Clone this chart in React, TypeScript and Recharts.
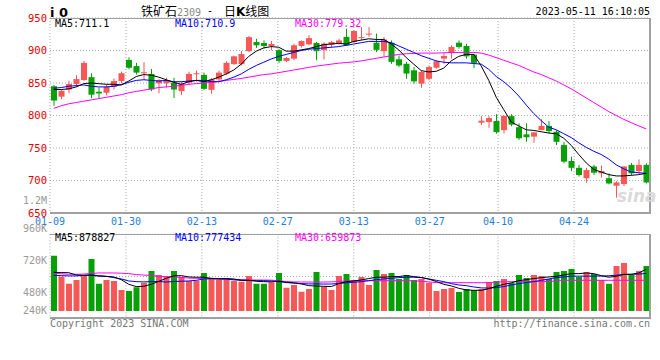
import React from 'react'
import { ComposedChart, Bar, Line, XAxis, YAxis, CartesianGrid, Cell } from 'recharts'

// trading days shown on the chart
const dates = [
  '01-09', '01-10', '01-11', '01-12', '01-13', '01-16', '01-17', '01-18', '01-19', '01-20',
  '01-30', '01-31', '02-01', '02-02', '02-03', '02-06', '02-07', '02-08', '02-09', '02-10',
  '02-13', '02-14', '02-15', '02-16', '02-17', '02-20', '02-21', '02-22', '02-23', '02-24',
  '02-27', '02-28', '03-01', '03-02', '03-03', '03-06', '03-07', '03-08', '03-09', '03-10',
  '03-13', '03-14', '03-15', '03-16', '03-17', '03-20', '03-21', '03-22', '03-23', '03-24',
  '03-27', '03-28', '03-29', '03-30', '03-31', '04-03', '04-04', '04-06', '04-07',
  '04-10', '04-11', '04-12', '04-13', '04-14', '04-17', '04-18', '04-19', '04-20', '04-21',
  '04-24', '04-25', '04-26', '04-27', '04-28', '05-04', '05-05', '05-08', '05-09', '05-10', '05-11',
]
const tickDates = ['01-09', '01-30', '02-13', '02-27', '03-13', '03-27', '04-10', '04-24']

const open = [
  845, 829, 840, 848.5, 854.5, 859, 836.5, 835, 844, 853,
  885.5, 876, 865, 864, 849.5, 849.5, 850.5, 837.5, 850.5, 863.5,
  862.5, 839.5, 855.5, 864.5, 879, 879, 899, 913, 911.5, 907,
  900.5, 884, 887.5, 907, 909.5, 911.5, 900.5, 909, 911.5, 921,
  913, 919.5, 925.5, 912, 899, 912, 886.5, 879.5, 869.5, 849,
  856.5, 873.5, 887.5, 896, 912, 907, 893.5, 789, 790, 791.5,
  777.5, 799, 782, 771, 767.5, 777.5, 784, 775, 754.5, 730,
  719.5, 703.5, 721.5, 711, 703.5, 692, 694.5, 724, 714.5, 724,
]
const high = [
  847, 840, 853.5, 862, 884, 865, 843, 848, 857, 867.5,
  889.5, 881, 882, 871.5, 856, 858, 858, 852, 867.5, 869,
  866, 857.5, 869, 883.5, 892, 899, 922.5, 918, 915.5, 914.5,
  902, 890, 910.5, 915.5, 923.5, 913, 913, 914.5, 918, 933.5,
  931, 936, 936, 926, 921, 915.5, 892.5, 882.5, 874.5, 869.5,
  877, 884.5, 896, 908, 915.5, 910.5, 895, 799, 799, 802,
  800, 802, 788, 788, 775, 794.5, 791.5, 777.5, 759.5, 736.5,
  724, 719.5, 724, 723, 711, 699, 722.5, 727, 732.5, 726.5,
]
const low = [
  815, 825, 834, 844, 853.5, 826.5, 825.5, 831, 840, 849.5,
  871, 863, 854.5, 837.5, 834, 843, 827, 831.5, 847, 852,
  839.5, 833.5, 851, 862, 878, 877, 897.5, 904, 903, 900.5,
  881, 882, 885, 904.5, 908, 885, 886, 904.5, 909, 907,
  912, 915.5, 921, 897.5, 890, 879.5, 874.5, 856.5, 849, 842.5,
  854, 872, 879.5, 887.5, 903, 887.5, 873, 785, 781, 772,
  772.5, 783.5, 762.5, 759.5, 758, 777.5, 772.5, 754.5, 726.5, 714.5,
  706, 696.5, 708.5, 704.5, 694, 673.5, 691.5, 708, 709.5, 695.5,
]
const close = [
  823, 838, 848.5, 856, 881, 832, 834, 844, 853, 865,
  873.5, 866, 866.5, 840, 854.5, 854.5, 840, 848.5, 864, 865,
  841, 855.5, 866, 881, 891, 894.5, 920.5, 908, 907, 910,
  884, 888.5, 908, 914.5, 919, 899, 910.5, 913, 915.5, 908,
  930, 920.5, 926, 901, 917, 882.5, 877, 864.5, 852.5, 867,
  874.5, 883.5, 891.5, 905.5, 905.5, 891, 881, 792, 796, 774.5,
  799.5, 786, 765, 766.5, 774, 784, 776, 759.5, 729, 719.5,
  708.5, 716, 712, 714.5, 695.5, 697, 721.5, 711, 724, 697,
]
const ma5 = [
  840, 840, 841, 844, 849, 850, 849, 848, 848, 847,
  853, 860, 863, 862, 859, 855, 851, 848, 852, 854,
  852, 855, 859, 864, 870, 879, 891, 899, 904, 906,
  905, 899, 899, 901, 903, 906, 909, 910, 911, 910,
  914, 916, 918, 917, 917, 910, 901, 889, 879, 869,
  867, 868, 873, 884, 891, 894, 894, 876, 854, 828,
  809, 790, 784, 778, 777, 775, 773, 772, 765, 754,
  740, 727, 717, 713, 709, 707, 707, 708, 709, 711.1,
]
const ma10 = [
  842, 843, 845, 846, 847, 845, 844, 844, 845, 847.5,
  851, 854, 855, 854, 853, 854, 852, 852, 853, 854,
  854, 852, 852, 855, 859, 864, 871, 877, 882, 887,
  891, 894, 897, 900, 902, 903, 904, 905, 906, 908,
  910, 912, 914, 914, 914, 912, 907, 902, 897, 892,
  888, 884, 882, 881, 881, 881, 880, 879, 871, 860,
  852, 842, 830, 816, 803, 792, 782, 778, 772, 766,
  758, 751, 745, 740, 733, 724, 718, 713, 712, 710.9,
]
const ma30 = [
  811, 815, 818, 820, 822, 824, 826, 828, 830, 832,
  835, 837, 839, 841, 843, 844, 845, 846.5, 848, 849,
  850, 851, 852.5, 854, 855.5, 857, 859, 861, 863, 864,
  866, 868, 870, 872, 874, 876, 877.5, 879, 880.5, 881.5,
  882.5, 884, 886, 888, 890, 892, 894, 895, 895.5, 896,
  896, 896, 896.5, 897, 897, 897, 897, 896, 893, 889,
  885, 881, 877, 872, 867, 863, 858, 853, 847, 841,
  834, 827, 820, 813, 806, 800, 794, 789, 784, 779.32,
]
// volume, in thousands (K)
const vol = [
  760, 602, 550, 577.5, 607.5, 735, 550, 577.5, 570, 502.5,
  495, 522.5, 557.5, 645, 615, 607.5, 645, 602, 570, 572.5,
  630, 590, 577.5, 590, 570, 565, 607.5, 550, 550, 560,
  630, 520, 540, 490, 510, 637.5, 527.5, 502.5, 607.5, 622.5,
  577.5, 600, 540, 652.5, 622.5, 630, 585, 615, 577.5, 585,
  557.5, 495, 510, 517.5, 487.5, 510, 502.5, 510, 562.5, 570,
  585, 555, 615, 592.5, 615, 607.5, 585, 637.5, 645, 660,
  600, 637.5, 622.5, 577.5, 550, 682.5, 705, 615, 645, 682.5,
]
const volMa5 = [
  635, 633, 632, 615, 612, 614, 606, 604, 600, 580,
  545, 528, 530, 545, 567, 590, 608, 610, 600, 598,
  598, 590, 586, 588, 585, 575, 575, 568, 565, 563,
  570, 558, 555, 548, 535, 532, 530, 528, 550, 565,
  570, 578, 588, 598, 598, 603, 603, 610, 603, 596,
  584, 566, 545, 533, 515, 503, 500, 500, 512, 530,
  545, 556, 572, 580, 588, 595, 600, 605, 615, 625,
  625, 630, 625, 610, 598, 605, 620, 620, 630, 658,
]
const volMa10 = [
  612, 610, 608, 608, 612, 615, 610, 605, 595, 585,
  570, 565, 563, 565, 566, 562, 566, 568, 570, 575,
  585, 588, 587, 585, 578, 575, 574, 572, 572, 570,
  565, 560, 555, 550, 548, 548, 547, 547, 552, 556,
  560, 565, 572, 580, 585, 590, 595, 598, 598, 595,
  585, 575, 565, 550, 540, 535, 525, 518, 517, 520,
  528, 540, 550, 558, 565, 575, 585, 595, 600, 606,
  606, 606, 607, 607, 609, 613, 618, 620, 622, 626,
]
const volMa30 = [
  628, 624, 620, 620, 622, 626, 630, 630, 630, 628,
  625, 618, 614, 612, 605, 602, 600, 596, 592, 590,
  588, 585, 583, 582, 582, 580, 578, 577, 577, 576,
  572, 566, 563, 562, 562, 562, 562, 563, 566, 570,
  572, 572, 572, 572, 572, 572, 572, 572, 571, 568,
  563, 558, 557, 557, 557, 557, 557, 557, 558, 561,
  564, 565, 565, 565, 565, 565, 566, 570, 574, 575,
  575, 575, 575, 575, 575, 575, 575, 575, 575, 575,
]
const priceTicks = [650, 700, 750, 800, 850, 900, 950]
const volTicks = [240, 480, 720, 960]
const volLegend = { ma5: '878827', ma10: '777434', ma30: '659873' }

const VOL_FLOOR = 345
const RED = '#f65757'
const GREEN = '#07a007'
const MONO = '"DejaVu Sans Mono", monospace'
const CJK = '"Noto Sans CJK SC", sans-serif'
const AXIS_W = 50

const rows = dates.map((date, i) => ({
  date,
  idx: i,
  open: open[i],
  high: high[i],
  low: low[i],
  close: close[i],
  ma5: ma5[i],
  ma10: ma10[i],
  ma30: ma30[i],
  vol: vol[i],
  volMa5: volMa5[i],
  volMa10: volMa10[i],
  volMa30: volMa30[i],
}))
const dateTicks = tickDates.map((d) => dates.indexOf(d))

const Candle = (p: any) => {
  const { x, y, width, height, payload } = p
  const top = Math.min(y, y + height)
  const h = Math.abs(height)
  const { open: o, close: c, high: hi, low: lo } = payload
  const py = (v: number) => top + ((hi - v) / (hi - lo)) * h
  const color = c >= o ? RED : GREEN
  const cx = x + width / 2
  const bTop = py(Math.max(o, c))
  const bBot = py(Math.min(o, c))
  return (
    <g>
      <line x1={cx} x2={cx} y1={top} y2={top + h} stroke={color} strokeWidth={1} />
      <rect x={x} y={bTop} width={width} height={Math.max(1, bBot - bTop)} fill={color} />
    </g>
  )
}

const VOL_H = 100
const VOL_M = { top: 10.3, right: 10, bottom: 5.3, left: 0 }

const VolTick = (p: any) => {
  // sina pins the lowest label to the bottom of the panel
  const y = Math.min(p.y, VOL_H - VOL_M.bottom - 8.4)
  return (
    <text x={AXIS_W - 3} y={y} textAnchor="end" dominantBaseline="central" fill="#999" fontSize={10} fontFamily={MONO}>
      {p.payload.value}K
    </text>
  )
}

const T = ({ x, r, y, s = 10, c = '#000', f = MONO, b = false, children }: any) => (
  <span
    style={{
      position: 'absolute',
      left: x,
      right: r,
      top: y - s / 2,
      fontSize: s,
      lineHeight: `${s}px`,
      color: c,
      fontFamily: f,
      fontWeight: b ? 'bold' : 'normal',
      whiteSpace: 'nowrap',
    }}
  >
    {children}
  </span>
)

const frame = (top: number, height: number): React.CSSProperties => ({
  position: 'absolute',
  left: 50,
  top,
  width: 601,
  height,
  boxSizing: 'border-box',
  borderTop: '1px solid #a0a0a0',
  borderRight: '2px solid #a0a0a0',
  borderBottom: '2px solid #a0a0a0',
  pointerEvents: 'none',
})

const App: React.FC = () => {
  const last = rows.length - 1
  return (
    <div style={{ position: 'absolute', left: 0, top: 0, width: 660, height: 360, background: '#fff', overflow: 'hidden' }}>
      <div style={{ position: 'absolute', left: 0, top: 0 }}>
        <ComposedChart width={660} height={230} data={rows} margin={{ top: 18, right: 10, bottom: 0, left: 0 }}>
          <CartesianGrid stroke="#a8a8a8" strokeDasharray="1 2" />
          <XAxis
            xAxisId={0}
            dataKey="idx"
            type="number"
            domain={[0, last]}
            allowDataOverflow
            ticks={dateTicks}
            interval={0}
            tickFormatter={(v: number) => dates[v]}
            height={17}
            tickSize={0}
            tickMargin={5}
            axisLine={false}
            tick={{ fill: '#1f80d8', fontSize: 10, fontFamily: MONO }}
          />
          <XAxis xAxisId="bar" dataKey="date" hide />
          <YAxis
            yAxisId={0}
            type="number"
            domain={[650, 950]}
            allowDataOverflow
            ticks={priceTicks}
            interval={0}
            width={AXIS_W}
            tickSize={0}
            tickMargin={3}
            axisLine={false}
            tick={{ fill: '#e60000', fontSize: 10.5, fontFamily: MONO }}
          />
          <Bar xAxisId="bar" dataKey={(r: any) => [r.low, r.high]} barSize={6} shape={Candle} isAnimationActive={false} />
          <Line xAxisId="bar" dataKey="ma30" stroke="#ff00ff" strokeWidth={1} dot={false} activeDot={false} isAnimationActive={false} />
          <Line xAxisId="bar" dataKey="ma10" stroke="#0000ff" strokeWidth={1} dot={false} activeDot={false} isAnimationActive={false} />
          <Line xAxisId="bar" dataKey="ma5" stroke="#000" strokeWidth={1} dot={false} activeDot={false} isAnimationActive={false} />
        </ComposedChart>
      </div>

      <div style={{ position: 'absolute', left: 0, top: 224 }}>
        <ComposedChart width={660} height={VOL_H} data={rows} margin={VOL_M}>
          <CartesianGrid stroke="#a8a8a8" strokeDasharray="1 2" />
          <XAxis xAxisId={0} dataKey="idx" type="number" domain={[0, last]} allowDataOverflow ticks={dateTicks} interval={0} hide />
          <XAxis xAxisId="bar" dataKey="date" hide />
          <YAxis yAxisId={0} type="number" domain={[0, 4]} ticks={[0, 1, 2, 3, 4]} allowDataOverflow hide />
          <YAxis
            yAxisId="vol"
            type="number"
            domain={[287, 920]}
            allowDataOverflow
            ticks={volTicks}
            interval={0}
            width={AXIS_W}
            tickSize={0}
            tickMargin={3}
            axisLine={false}
            tick={VolTick}
          />
          <Bar xAxisId="bar" yAxisId="vol" dataKey={(r: any) => [VOL_FLOOR, r.vol]} barSize={6} isAnimationActive={false}>
            {rows.map((r, i) => (
              <Cell key={i} fill={r.close >= r.open ? RED : GREEN} />
            ))}
          </Bar>
          <Line xAxisId="bar" yAxisId="vol" dataKey="volMa30" stroke="#ff00ff" strokeWidth={1} dot={false} activeDot={false} isAnimationActive={false} />
          <Line xAxisId="bar" yAxisId="vol" dataKey="volMa10" stroke="#0000ff" strokeWidth={1} dot={false} activeDot={false} isAnimationActive={false} />
          <Line xAxisId="bar" yAxisId="vol" dataKey="volMa5" stroke="#000" strokeWidth={1} dot={false} activeDot={false} isAnimationActive={false} />
        </ComposedChart>
      </div>

      <div style={frame(18, 196)} />
      <div style={frame(234, 85)} />

      <T x={50} y={12} s={13} f='"DejaVu Sans", sans-serif' b>i 0</T>
      <T x={141} y={11} s={12} f={CJK}>
        铁矿石<span style={{ color: '#888', fontFamily: MONO, fontSize: 10 }}>2309</span>
      </T>
      <T x={207} y={11} s={10}>-</T>
      <T x={224} y={11} s={12} f={CJK}>
        日<b style={{ fontFamily: '"DejaVu Sans", sans-serif' }}>K</b>线图
      </T>
      <T r={10} y={12}>2023-05-11 16:10:05</T>

      <T x={55} y={24}>MA5:{ma5[last]}</T>
      <T x={175} y={24} c="#0000ff">MA10:{ma10[last]}</T>
      <T x={295} y={24} c="#ff00ff">MA30:{ma30[last]}</T>

      <T r={613} y={201} c="#999">1.2M</T>
      <span style={{ position: 'absolute', left: 617, top: 186, fontSize: 17, fontStyle: 'italic', fontWeight: 'bold', color: '#dadada', fontFamily: '"DejaVu Sans", sans-serif' }}>
        sina
      </span>

      <T x={55} y={238}>MA5:{volLegend.ma5}</T>
      <T x={175} y={238} c="#0000ff">MA10:{volLegend.ma10}</T>
      <T x={295} y={238} c="#ff00ff">MA30:{volLegend.ma30}</T>

      <T x={50} y={324} c="#777">Copyright 2023 SINA.COM</T>
      <T r={10} y={324} c="#777">http://finance.sina.com.cn</T>
    </div>
  )
}

export default App
